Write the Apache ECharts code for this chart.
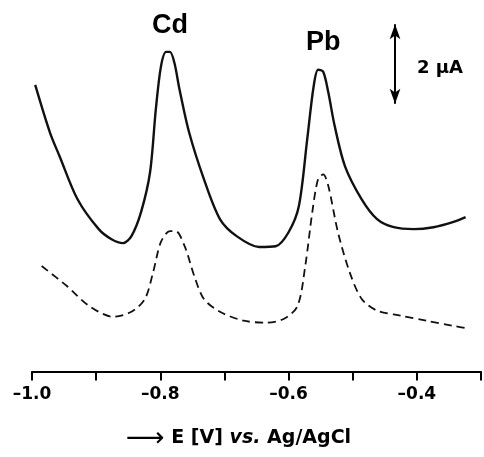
<!DOCTYPE html>
<html>
<head>
<meta charset="utf-8">
<script src="https://cdn.jsdelivr.net/npm/echarts@6/dist/echarts.min.js"></script>
<style>
  html, body { margin: 0; padding: 0; background: #fff; }
  #chart { width: 484px; height: 457px; }
</style>
</head>
<body>
<div id="chart"></div>
<script>
// potential (V vs. Ag/AgCl) and current (µA, arbitrary offset)
const solidE = [-0.995, -0.972, -0.957, -0.929, -0.896, -0.876, -0.858, -0.845, -0.830, -0.816,
  -0.807, -0.799, -0.791, -0.785, -0.778, -0.770, -0.755, -0.732, -0.707, -0.681,
  -0.646, -0.620, -0.600, -0.584, -0.571, -0.561, -0.554, -0.546, -0.538, -0.528,
  -0.512, -0.486, -0.462, -0.436, -0.405, -0.374, -0.344, -0.324]
const solidI = [7.39, 6.16, 5.55, 4.44, 3.67, 3.41, 3.31, 3.49, 4.11, 5.13,
  6.75, 7.86, 8.24, 8.24, 7.96, 7.27, 6.16, 4.96, 3.93, 3.49,
  3.21, 3.23, 3.59, 4.26, 5.98, 7.34, 7.78, 7.73, 7.19, 6.32,
  5.29, 4.44, 3.93, 3.72, 3.67, 3.72, 3.85, 3.98]

const dashE = [-0.985, -0.946, -0.911, -0.873, -0.845, -0.824, -0.811, -0.799, -0.785, -0.776,
  -0.762, -0.747, -0.732, -0.707, -0.670, -0.635, -0.607, -0.586, -0.574, -0.563,
  -0.554, -0.546, -0.538, -0.523, -0.505, -0.486, -0.462, -0.425, -0.385, -0.344, -0.318]
const dashI = [2.72, 2.21, 1.69, 1.41, 1.54, 1.87, 2.57, 3.34, 3.62, 3.62,
  3.23, 2.46, 1.87, 1.54, 1.31, 1.26, 1.36, 1.69, 2.72, 4.11,
  4.96, 5.08, 4.78, 3.59, 2.57, 1.87, 1.57, 1.44, 1.31, 1.18, 1.10]

// 2 µA scale bar
const scaleE = -0.434
const scaleI = [6.9, 8.95]

const zip = (xs, ys) => xs.map((x, i) => [x, ys[i]])

let myChart = echarts.init(document.getElementById('chart'))
const font = 'Arial, "Liberation Sans", sans-serif'
const wide = '"DejaVu Sans", sans-serif'
myChart.setOption({
  animation: false,
  grid: {
    left: 32,
    right: -4,
    top: 3,
    bottom: 84
  },
  xAxis: {
    type: 'value',
    min: -1.0,
    max: -0.3,
    interval: 0.1,
    splitLine: { show: false },
    axisLine: { onZero: false, lineStyle: { color: '#000', width: 2 } },
    axisTick: { length: 9, lineStyle: { color: '#000', width: 2 } },
    axisLabel: {
      color: '#000',
      fontSize: 17,
      fontWeight: 'bold',
      fontFamily: wide,
      margin: 15,
      formatter: function (v) {
        if (Math.round(v * 10) % 2 !== 0) return ''
        return v.toFixed(1).replace('-', '\u2013')
      }
    },
    name: '{a|\u27f6}  {b|E [V] }{c|vs.}{b| Ag/AgCl}',
    nameLocation: 'middle',
    nameGap: 57,
    nameTextStyle: {
      padding: [0, 36, 0, 0],
      rich: {
        a: { fontSize: 27, lineHeight: 20, color: '#000', fontFamily: wide },
        b: { fontSize: 19, fontWeight: 'bold', color: '#000', fontFamily: wide },
        c: { fontSize: 19, fontWeight: 'bold', fontStyle: 'italic', color: '#000', fontFamily: wide }
      }
    }
  },
  yAxis: {
    type: 'value',
    min: 0,
    max: 9.5,
    show: false
  },
  series: [
    {
      name: 'solid',
      type: 'line',
      data: zip(solidE, solidI),
      smooth: 0.3,
      symbol: 'none',
      lineStyle: { color: '#111', width: 2.4 }
    },
    {
      name: 'dashed',
      type: 'line',
      data: zip(dashE, dashI),
      smooth: 0.3,
      symbol: 'none',
      lineStyle: { color: '#111', width: 1.8, type: [8, 5] }
    },
    {
      name: 'scale',
      type: 'line',
      data: [],
      markLine: {
        silent: true,
        symbol: ['arrow', 'arrow'],
        symbolSize: [8, 15],
        label: { show: false },
        lineStyle: { color: '#000', width: 2, type: 'solid' },
        data: [[{ coord: [scaleE, scaleI[0]] }, { coord: [scaleE, scaleI[1]] }]]
      }
    }
  ],
  graphic: [
    { type: 'text', left: 152, top: 12, style: { text: 'Cd', font: 'bold 27px ' + font, fill: '#000' } },
    { type: 'text', left: 306, top: 29, style: { text: 'Pb', font: 'bold 27px ' + font, fill: '#000' } },
    { type: 'text', left: 417, top: 59, style: { text: '2 \u00b5A', font: 'bold 18px ' + wide, fill: '#000' } }
  ]
})
</script>
</body>
</html>
